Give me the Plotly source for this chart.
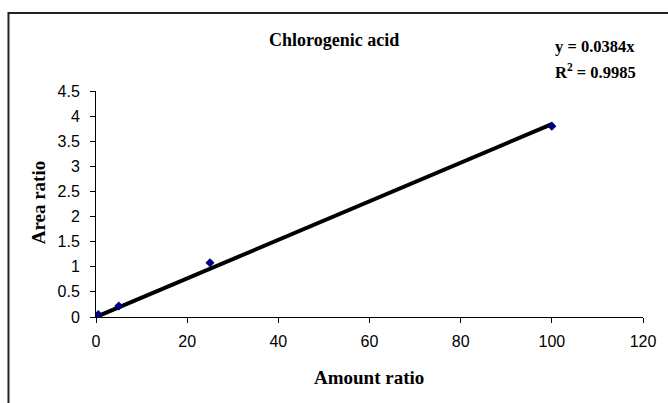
import plotly.graph_objects as go

# Calibration data: amount ratio vs. area ratio
amount_ratio = [0.5, 5, 25, 100]
area_ratio = [0.05, 0.22, 1.08, 3.80]

# Linear trendline through the origin
slope = 0.0384
r_squared = 0.9985
fit_x = [0, 100]
fit_y = [slope * v for v in fit_x]

W, H = 668, 403
L, R, T, B = 96, 22, 91, 86
pw, ph = W - L - R, H - T - B


def px(x):
    return (x - L) / pw


def py(y):
    return (H - B - y) / ph


serif = "Liberation Serif, Times New Roman, serif"
sans = "Liberation Sans, Arial, sans-serif"

fig = go.Figure()
fig.add_trace(go.Scatter(
    x=fit_x, y=fit_y, mode="lines",
    line=dict(color="black", width=4),
    hoverinfo="skip", showlegend=False,
))
fig.add_trace(go.Scatter(
    x=amount_ratio, y=area_ratio, mode="markers",
    marker=dict(symbol="diamond", size=7, color="#000080"),
    showlegend=False,
))

axis_common = dict(
    showgrid=False, zeroline=False, showline=True, linecolor="black",
    linewidth=1, ticks="outside", ticklen=5, tickcolor="black",
    tickfont=dict(family=sans, size=16, color="black"),
)
fig.update_xaxes(range=[0, 120], dtick=20, tick0=0, ticklabelstandoff=5, **axis_common)
fig.update_yaxes(range=[0, 4.5], dtick=0.5, tick0=0, ticklabelstandoff=7, **axis_common)

annotations = [
    dict(text="<b>Chlorogenic acid</b>", x=px(335), y=py(40),
         font=dict(family=serif, size=18, color="black")),
    dict(text="<b>y = 0.0384x</b>", x=px(598), y=py(47),
         font=dict(family=serif, size=16.5, color="black")),
    dict(text="<b>R<sup>2</sup> = 0.9985</b>", x=px(598), y=py(71),
         font=dict(family=serif, size=16.5, color="black")),
    dict(text="<b>Area ratio</b>", x=px(38), y=py(202), textangle=-90,
         font=dict(family=serif, size=19, color="black")),
    dict(text="<b>Amount ratio</b>", x=px(370), y=py(377),
         font=dict(family=serif, size=19, color="black")),
]
for a in annotations:
    a.update(xref="paper", yref="paper", showarrow=False,
             xanchor="center", yanchor="middle")

fig.update_layout(
    width=W, height=H,
    margin=dict(l=L, r=R, t=T, b=B),
    paper_bgcolor="white", plot_bgcolor="white",
    annotations=annotations,
    shapes=[dict(type="rect", xref="paper", yref="paper",
                 x0=px(8), x1=px(W + 30), y0=py(H + 30), y1=py(13),
                 line=dict(color="#222222", width=2))],
)

fig.write_html("out.html")
